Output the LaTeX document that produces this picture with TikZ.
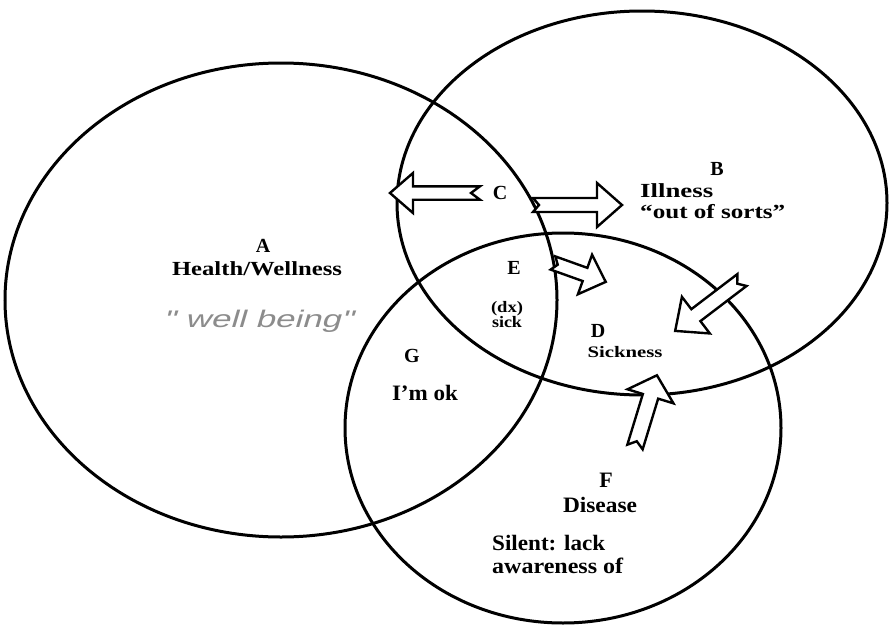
\documentclass[tikz,border=0pt]{standalone}
\usepackage{fontspec}
\setmainfont{Liberation Serif}
\newfontfamily\handfont{Liberation Sans}[FakeSlant=0.2]
\usetikzlibrary{shapes.geometric}
\newcommand\wfit[2]{\resizebox{#1pt}{\height}{#2}}
\tikzset{
  venn/.style={draw=black, line width=3pt, ellipse, inner sep=0pt},
  blockarrow/.style={draw=black, fill=white, line width=2.4pt, line join=miter},
  lbl/.style={inner sep=0pt, font=\bfseries\fontsize{20}{24}\selectfont},
  biglbl/.style={inner sep=0pt, font=\bfseries\fontsize{22}{26}\selectfont},
  smalllbl/.style={inner sep=0pt, font=\bfseries\fontsize{16}{19}\selectfont},
  handlbl/.style={inner sep=0pt, text=black!45, font=\handfont\fontsize{24}{28}\selectfont},
  pics/barrow/.style n args={5}{code={
    \draw[blockarrow] (0,#2) -- ({#1-#4},#2) -- ({#1-#4},#3) -- (#1,0)
      -- ({#1-#4},-#3) -- ({#1-#4},-#2) -- (0,-#2) -- (#5,0) -- cycle;
  }},
}
\begin{document}
\begin{tikzpicture}[x=1pt,y=-1pt]
\useasboundingbox (0,0) rectangle (889,629);
\fill[white] (0,0) rectangle (889,629);
% circles
\node[venn, minimum width=552pt, minimum height=474pt] (A) at (281,300) {};
\node[venn, minimum width=490pt, minimum height=384pt] (B) at (642,203) {};
\node[venn, minimum width=436pt, minimum height=390pt] (F) at (563,428) {};
% arrow anchor coordinates
\coordinate (t1) at (480,193);
\coordinate (t2) at (533,205);
\coordinate (t3) at (553,263);
\coordinate (t4) at (742,280);
\coordinate (t5) at (635,447);
\pic[rotate=180] at (t1) {barrow={90}{6.7}{20}{23}{9}};
\pic[rotate=0] at (t2) {barrow={89}{7}{22}{25}{6}};
\pic[rotate=-19.7] at (t3) {barrow={56}{7}{21}{22}{5}};
\pic[rotate=-142.7] at (t4) {barrow={84}{7.5}{23}{26}{6}};
\pic[rotate=73] at (t5) {barrow={75}{8}{24}{22}{6}};
% labels
\node[lbl, anchor=base] (lA) at (263,252) {A};
\node[lbl, anchor=base] (lHW) at (257,275) {\wfit{170}{Health/Wellness}};
\node[handlbl, anchor=base] (lWB) at (258,327) {\wfit{190}{" well being"}};
\node[lbl, anchor=base] (lB) at (717,175) {B};
\node[lbl, anchor=base west] (lIll) at (640,197) {\wfit{73}{Illness}};
\node[lbl, anchor=base west] (lOut) at (640,218) {\wfit{145}{“out of sorts”}};
\node[lbl, anchor=base] (lC) at (500,199) {C};
\node[lbl, anchor=base] (lE) at (514,274) {E};
\node[smalllbl, anchor=base] (lDx) at (507,312) {\wfit{32}{(dx)}};
\node[smalllbl, anchor=base] (lSick) at (507,327) {\wfit{30}{sick}};
\node[lbl, anchor=base] (lD) at (598,337) {D};
\node[smalllbl, anchor=base] (lSk) at (625,357) {\wfit{75}{Sickness}};
\node[lbl, anchor=base] (lG) at (412,362) {G};
\node[biglbl, anchor=base] (lOk) at (425,400) {\wfit{66}{I’m ok}};
\node[biglbl, anchor=base] (lF) at (606,487) {F};
\node[biglbl, anchor=base] (lDis) at (600,512) {\wfit{74}{Disease}};
\node[biglbl, anchor=base west] (lSil) at (492,550) {\wfit{113}{Silent: lack}};
\node[biglbl, anchor=base west] (lAw) at (492,573) {\wfit{131}{awareness of}};
\end{tikzpicture}
\end{document}
